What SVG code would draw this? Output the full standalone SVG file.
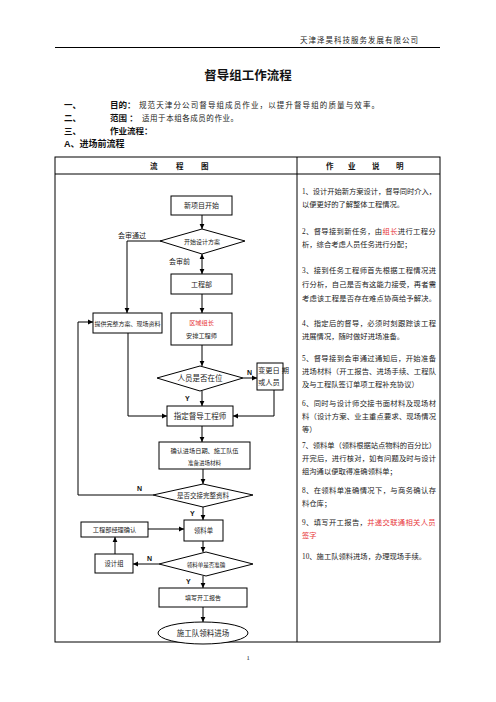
<svg xmlns="http://www.w3.org/2000/svg" width="496" height="702" viewBox="0 0 496 702">
<style>
text{font-family:"Liberation Serif","Noto Sans CJK SC",serif;fill:#222}
.b{font-weight:bold;font-family:"Liberation Sans","Noto Sans CJK SC",sans-serif;fill:#111}
.box{fill:#fff;stroke:#000;stroke-width:1}
.ln{fill:none;stroke:#000;stroke-width:1}
.c{text-anchor:middle}
.r{fill:#e8393c}
.d{font-size:7.3px}
.ls{letter-spacing:0.35px}
.t{fill:none;stroke:#000;stroke-width:1}
</style>
<defs>
<marker id="a" markerWidth="6" markerHeight="6" refX="5" refY="3" orient="auto" markerUnits="userSpaceOnUse"><path d="M0,0.6 L5,3 L0,5.4z" fill="#000"/></marker>
<marker id="a2" markerWidth="6" markerHeight="6" refX="5" refY="3" orient="auto-start-reverse" markerUnits="userSpaceOnUse"><path d="M0,0.6 L5,3 L0,5.4z" fill="#000"/></marker>
</defs>

<g id="page-header">
<text x="418" y="43" font-size="7.5" text-anchor="end" textLength="118" lengthAdjust="spacing">天津泽昊科技服务发展有限公司</text>
<line x1="55" y1="47.5" x2="440" y2="47.5" stroke="#000" stroke-width="1"/>
</g>

<g id="intro">
<text x="248" y="80" font-size="12.5" class="b c">督导组工作流程</text>
<text x="64" y="107.5" font-size="8.5" class="b">一、</text>
<text x="110" y="107.5" font-size="8.5" class="b">目的：</text>
<text x="139" y="107.5" font-size="7.5" textLength="240" lengthAdjust="spacing">规范天津分公司督导组成员作业，以提升督导组的质量与效率。</text>
<text x="64" y="120.5" font-size="8.5" class="b">二、</text>
<text x="110" y="120.5" font-size="8.5" class="b">范围 ：</text>
<text x="142" y="120.5" font-size="7.5" textLength="96" lengthAdjust="spacing">适用于本组各成员的作业。</text>
<text x="64" y="133.5" font-size="8.5" class="b">三、</text>
<text x="110" y="133.5" font-size="8.5" class="b">作业流程：</text>
<text x="64" y="147" font-size="9" class="b">A、进场前流程</text>
</g>

<g id="table">
<rect x="55" y="157" width="385" height="485" class="t"/>
<line x1="55" y1="174" x2="440" y2="174" class="t"/>
<line x1="297" y1="157" x2="297" y2="642" class="t"/>
<text x="150" y="168.5" font-size="7.5" class="b">流</text>
<text x="176" y="168.5" font-size="7.5" class="b">程</text>
<text x="201" y="168.5" font-size="7.5" class="b">图</text>
<text x="326" y="168.5" font-size="7.5" class="b">作</text>
<text x="348" y="168.5" font-size="7.5" class="b">业</text>
<text x="372" y="168.5" font-size="7.5" class="b">说</text>
<text x="396" y="168.5" font-size="7.5" class="b">明</text>
</g>

<g id="connectors">
<line x1="202" y1="214" x2="202" y2="229" class="ln" marker-end="url(#a)"/>
<line x1="202" y1="254" x2="202" y2="274" class="ln" marker-start="url(#a2)" marker-end="url(#a2)"/>
<polyline points="163,241 127,241 127,313" class="ln" marker-end="url(#a)"/>
<line x1="202" y1="294" x2="202" y2="313" class="ln" marker-end="url(#a)"/>
<line x1="202" y1="345" x2="202" y2="366" class="ln" marker-end="url(#a)"/>
<line x1="243" y1="378" x2="257" y2="378" class="ln" marker-end="url(#a)"/>
<line x1="202" y1="391" x2="202" y2="406" class="ln" marker-end="url(#a)"/>
<polyline points="274,390 274,416 233,416" class="ln" marker-end="url(#a)"/>
<polyline points="128,333 128,416 167,416" class="ln" marker-end="url(#a)"/>
<line x1="202" y1="426" x2="202" y2="442" class="ln" marker-end="url(#a)"/>
<line x1="203" y1="469" x2="203" y2="484" class="ln" marker-end="url(#a)"/>
<polyline points="153,495 78,495 78,322 93,322" class="ln" marker-end="url(#a)"/>
<line x1="203" y1="507" x2="203" y2="520" class="ln" marker-end="url(#a)"/>
<line x1="141" y1="529" x2="184" y2="529" class="ln" marker-end="url(#a)"/>
<line x1="203" y1="541" x2="203" y2="552" class="ln" marker-end="url(#a)"/>
<line x1="159" y1="564" x2="133" y2="564" class="ln" marker-end="url(#a)"/>
<line x1="115" y1="554" x2="115" y2="537" class="ln" marker-end="url(#a)"/>
<line x1="203" y1="576" x2="203" y2="588" class="ln" marker-end="url(#a)"/>
<line x1="203" y1="607" x2="203" y2="622" class="ln" marker-end="url(#a)"/>
<text x="118" y="237.5" font-size="7">会审通过</text>
<text x="169" y="263.5" font-size="7">会审前</text>
<text x="247" y="375" font-size="7" class="b">N</text>
<text x="185" y="401" font-size="7" class="b">Y</text>
<text x="137" y="491" font-size="7" class="b">N</text>
<text x="190" y="516" font-size="7" class="b">Y</text>
<text x="147" y="561" font-size="7" class="b">N</text>
<text x="186" y="584" font-size="7" class="b">Y</text>
</g>

<g id="n-start"><rect x="171" y="196" width="61" height="19" class="box"/><text x="201.5" y="208" font-size="7" class="c">新项目开始</text></g>
<g id="n-design"><polygon points="202,229 245,241 202,254 160,241" class="box"/><text x="202" y="243.5" font-size="6" class="c">开始设计方案</text></g>
<g id="n-eng"><rect x="171" y="274" width="61" height="20" class="box"/><text x="201.5" y="286.5" font-size="7" class="c">工程部</text></g>
<g id="n-provide"><rect x="93" y="313" width="69" height="20" class="box"/><text x="127.5" y="325.5" font-size="6" class="c" textLength="66" lengthAdjust="spacing">提供完整方案、现场资料</text></g>
<g id="n-leader"><rect x="171" y="313" width="61" height="32" class="box"/><text x="201.5" y="325" font-size="6.2" class="c r">区域组长</text><text x="201.5" y="338" font-size="6.2" class="c">安排工程师</text></g>
<g id="n-present"><polygon points="200,366 243,378 200,391 157,378" class="box"/><text x="200" y="381" font-size="7.5" class="c">人员是否在位</text></g>
<g id="n-change"><rect x="257" y="363" width="26" height="27" class="box"/><text x="258" y="373" font-size="7.3">变更日 期</text><text x="258" y="385" font-size="7.3">或人员</text></g>
<g id="n-assign"><rect x="167" y="406" width="66" height="20" class="box"/><text x="200" y="419" font-size="7.5" class="c">指定督导工程师</text></g>
<g id="n-confirm"><rect x="159" y="442" width="91" height="27" class="box"/><text x="204.5" y="453" font-size="6.2" class="c">确认进场日期、施工队伍</text><text x="204.5" y="465" font-size="5.5" class="c">准备进场材料</text></g>
<g id="n-handover"><polygon points="203,484 253,495 203,507 153,495" class="box"/><text x="203" y="497.5" font-size="6.5" class="c">是否交接完整资料</text></g>
<g id="n-mgr"><rect x="81" y="522" width="67" height="15" class="box"/><text x="114.5" y="532" font-size="6.2" class="c">工程部经理确认</text></g>
<g id="n-order"><rect x="184" y="520" width="39" height="21" class="box"/><text x="203.5" y="533" font-size="6.3" class="c">领料单</text></g>
<g id="n-designgrp"><rect x="95" y="554" width="38" height="19" class="box"/><text x="114" y="566" font-size="6.3" class="c">设计组</text></g>
<g id="n-accurate"><polygon points="206,552 253,564 206,576 159,564" class="box"/><text x="206" y="566.5" font-size="5.5" class="c">领料单是否准确</text></g>
<g id="n-report"><rect x="159" y="588" width="88" height="19" class="box"/><text x="203" y="600" font-size="6" class="c">填写开工报告</text></g>
<g id="n-end"><ellipse cx="203" cy="633" rx="45" ry="11" class="box"/><text x="203" y="636" font-size="7.5" class="c">施工队领料进场</text></g>

<g id="notes" class="d">
<text x="302" y="193.5" textLength="134" lengthAdjust="spacing">1、设计开始新方案设计，督导同时介入，</text>
<text x="302" y="207">以便更好的了解整体工程情况。</text>
<text x="302" y="233.5" class="ls">2、督导接到新任务，由</text>
<text x="382.5" y="233.5" class="ls r">组长</text>
<text x="397.8" y="233.5" class="ls">进行工程分</text>
<text x="302" y="247">析，综合考虑人员任务进行分配；</text>
<text x="302" y="273" textLength="134" lengthAdjust="spacing">3、接到任务工程师首先根据工程情况进</text>
<text x="302" y="286.5" textLength="134" lengthAdjust="spacing">行分析，自己是否有这能力接受，再者需</text>
<text x="302" y="300.5" textLength="134" lengthAdjust="spacing">考虑该工程是否存在难点协商给予解决。</text>
<text x="302" y="325.5" textLength="134" lengthAdjust="spacing">4、指定后的督导，必须时刻跟踪该工程</text>
<text x="302" y="339">进展情况，随时做好进场准备。</text>
<text x="302" y="360.5" textLength="134" lengthAdjust="spacing">5、督导接到会审通过通知后，开始准备</text>
<text x="302" y="373.5" textLength="134" lengthAdjust="spacing">进场材料（开工报告、进场手续、工程队</text>
<text x="302" y="386.5">及与工程队签订单项工程补充协议）</text>
<text x="302" y="405.5" textLength="134" lengthAdjust="spacing">6、同时与设计师交接书面材料及现场材</text>
<text x="302" y="418.5" textLength="134" lengthAdjust="spacing">料（设计方案、业主重点要求、现场情况</text>
<text x="302" y="431.5">等）</text>
<text x="302" y="447.5" textLength="134" lengthAdjust="spacing">7、领料单（领料根据站点物料的百分比）</text>
<text x="302" y="460.5" textLength="134" lengthAdjust="spacing">开完后，进行核对，如有问题及时与设计</text>
<text x="302" y="473.5">组沟通以便取得准确领料单；</text>
<text x="302" y="492.5" textLength="134" lengthAdjust="spacing">8、在领料单准确情况下，与商务确认存</text>
<text x="302" y="505.5">料仓库；</text>
<text x="302" y="524.5" class="ls">9、填写开工报告，</text>
<text x="367.2" y="524.5" class="ls r">并递交联通相关人员</text>
<text x="302" y="537.5" class="r">签字</text>
<text x="302" y="558.5">10、施工队领料进场，办理现场手续。</text>
</g>

<text x="248" y="660" font-size="6.5" class="c">1</text>
</svg>
